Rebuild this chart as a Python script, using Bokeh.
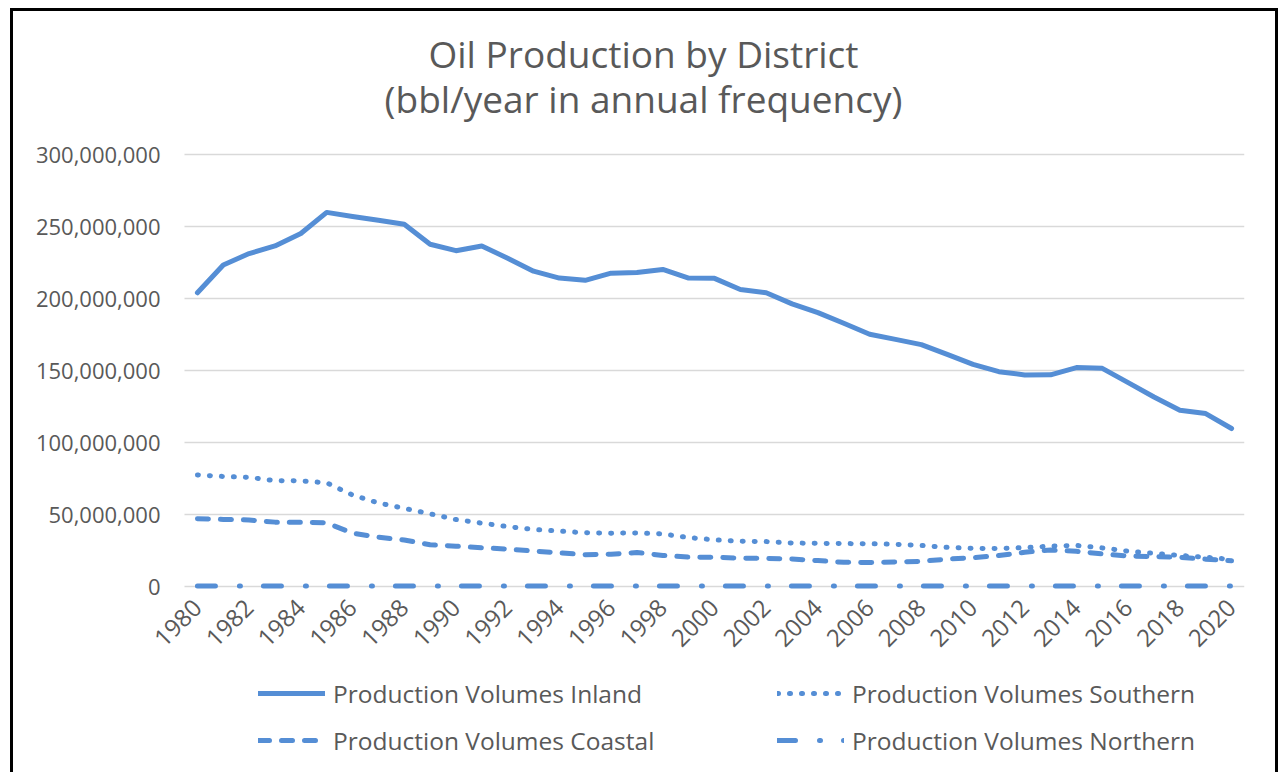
from bokeh.plotting import figure
from bokeh.models import Legend, LegendItem, Label, FixedTicker, NumeralTickFormatter, Range1d
from bokeh.embed import file_html
from bokeh.resources import INLINE

# ---------------- data ----------------
years = list(range(1980, 2021))

inland = [204.0e6, 223.3e6, 231.2e6, 236.5e6, 245.1e6, 259.8e6, 257.0e6, 254.4e6, 251.6e6, 237.7e6,
          233.2e6, 236.5e6, 228.0e6, 219.0e6, 214.2e6, 212.6e6, 217.6e6, 218.0e6, 220.2e6, 214.2e6,
          214.0e6, 206.3e6, 204.0e6, 196.3e6, 190.2e6, 182.8e6, 175.2e6, 171.6e6, 168.0e6, 161.2e6,
          154.3e6, 149.2e6, 146.9e6, 147.0e6, 152.0e6, 151.5e6, 141.6e6, 131.6e6, 122.4e6, 120.1e6,
          109.7e6]

southern = [77.5e6, 76.4e6, 75.8e6, 73.5e6, 73.4e6, 72.0e6, 63.5e6, 58.0e6, 54.3e6, 50.5e6,
            46.5e6, 44.0e6, 41.6e6, 39.6e6, 38.5e6, 37.3e6, 37.0e6, 37.2e6, 36.5e6, 34.0e6,
            32.4e6, 31.4e6, 31.2e6, 30.2e6, 30.0e6, 29.8e6, 29.7e6, 29.3e6, 28.5e6, 27.2e6,
            26.5e6, 26.4e6, 27.0e6, 28.0e6, 28.5e6, 26.8e6, 24.5e6, 23.0e6, 21.6e6, 20.3e6,
            18.8e6]

coastal = [47.0e6, 46.6e6, 46.2e6, 44.7e6, 44.7e6, 44.2e6, 37.0e6, 34.3e6, 32.3e6, 29.0e6,
           28.0e6, 26.9e6, 26.0e6, 24.6e6, 23.4e6, 22.1e6, 22.4e6, 23.6e6, 21.6e6, 20.4e6,
           20.3e6, 19.7e6, 19.5e6, 19.1e6, 18.0e6, 16.8e6, 16.7e6, 17.0e6, 17.5e6, 19.0e6,
           20.0e6, 21.5e6, 23.8e6, 25.3e6, 24.5e6, 22.6e6, 21.2e6, 20.8e6, 20.3e6, 19.0e6,
           17.8e6]

northern = [0.3e6, 0.3e6, 0.3e6, 0.3e6, 0.3e6, 0.3e6, 0.3e6, 0.3e6, 0.3e6, 0.3e6,
            0.3e6, 0.3e6, 0.3e6, 0.3e6, 0.3e6, 0.3e6, 0.3e6, 0.3e6, 0.3e6, 0.3e6,
            0.3e6, 0.3e6, 0.3e6, 0.3e6, 0.3e6, 0.3e6, 0.3e6, 0.3e6, 0.3e6, 0.3e6,
            0.3e6, 0.3e6, 0.3e6, 0.3e6, 0.3e6, 0.3e6, 0.3e6, 0.3e6, 0.3e6, 0.3e6,
            0.3e6]

y_ticks = [0, 50e6, 100e6, 150e6, 200e6, 250e6, 300e6]
x_ticks = list(range(1980, 2021, 2))

title_1 = "Oil Production by District"
title_2 = "(bbl/year in annual frequency)"
names = ["Production Volumes Inland", "Production Volumes Southern",
         "Production Volumes Coastal", "Production Volumes Northern"]

# ---------------- style ----------------
BLUE = "#558ED5"
TXT = "#595959"
GRID = "#D9D9D9"
FONT = "Open Sans"

# plot area (category band edges) and the full frame range around it
AREA_X0, AREA_X1 = 1979.5, 2020.5
FRAME_X0 = 1972.886
FRAME_Y0, FRAME_Y1 = -131.25e6, 399.306e6

p = figure(frame_width=1231, frame_height=764, output_backend="svg", toolbar_location=None,
           x_range=Range1d(FRAME_X0, AREA_X1), y_range=Range1d(FRAME_Y0, FRAME_Y1),
           min_border_left=0, min_border_right=31, min_border_top=0, min_border_bottom=0)
p.styles = {"border-left": "3px solid black", "border-right": "3px solid black",
            "border-top": "3px solid black", "margin-left": "10px", "margin-top": "8px"}
p.outline_line_color = None
p.background_fill_color = "white"
p.border_fill_color = "white"

# horizontal gridlines across the plot area only
p.xgrid.visible = False
p.ygrid.visible = False
p.segment(x0=[AREA_X0] * len(y_ticks), x1=[AREA_X1] * len(y_ticks), y0=y_ticks, y1=y_ticks,
          line_color=GRID, line_width=1.5)

common = dict(line_width=5, color=BLUE, line_cap="round", line_join="round")
r_in = p.line(years, inland, **common)
r_so = p.line(years, southern, line_dash="1 11", **common)
r_co = p.line(years, coastal, line_dash="11 12", **common)
r_no = p.line(years, northern, line_dash="18 24 1 23", **common)

# axes, pinned to the plot area edges
p.yaxis.ticker = FixedTicker(ticks=y_ticks)
p.yaxis.formatter = NumeralTickFormatter(format="0,0")
p.yaxis.fixed_location = AREA_X0
p.xaxis.ticker = FixedTicker(ticks=x_ticks)
p.xaxis.fixed_location = 0
for ax in (p.xaxis[0], p.yaxis[0]):
    ax.axis_line_color = None
    ax.major_tick_line_color = None
    ax.minor_tick_line_color = None
    ax.major_tick_out = 0
    ax.major_tick_in = 0
    ax.minor_tick_out = 0
    ax.minor_tick_in = 0
    ax.major_label_text_font = FONT
    ax.major_label_text_color = TXT
p.yaxis.major_label_text_font_size = "22px"
p.xaxis.major_label_text_font_size = "24px"
p.yaxis.major_label_standoff = 24
p.xaxis.major_label_standoff = 17
p.xaxis.major_label_orientation = 0.785398

# title (two centred lines)
for txt, yy in ((title_1, 722), (title_2, 677)):
    p.add_layout(Label(x=630, y=yy, x_units="screen", y_units="screen", text=txt,
                       text_align="center", text_baseline="alphabetic",
                       text_font=FONT, text_font_size="37px", text_color=TXT))

# legend
legend = Legend(items=[LegendItem(label=names[0], renderers=[r_in]),
                       LegendItem(label=names[2], renderers=[r_co]),
                       LegendItem(label=names[1], renderers=[r_so]),
                       LegendItem(label=names[3], renderers=[r_no])],
                location=(245, 18), orientation="vertical", nrows=2,
                glyph_width=67, glyph_height=34, label_height=34, label_width=431,
                label_standoff=8, spacing=13, padding=0, margin=0,
                border_line_color=None, background_fill_alpha=0,
                label_text_font=FONT, label_text_font_size="24.5px", label_text_color=TXT)
p.add_layout(legend)

open("out.html", "w").write(file_html(p, INLINE))
